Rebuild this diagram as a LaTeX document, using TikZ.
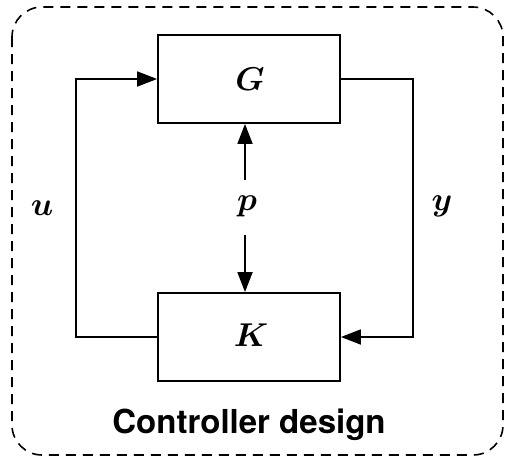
\documentclass[tikz,border=0pt]{standalone}
\usepackage{fontspec}
\newfontfamily\labelfont{TeX Gyre Heros}
\usetikzlibrary{arrows.meta}
\newcommand{\bigsym}[1]{\scalebox{3.3}{\boldmath$#1$}}
\begin{document}
\begin{tikzpicture}[x=1pt,y=-1pt,
  blk/.style={draw, line width=1.8pt, minimum width=182pt, minimum height=88pt, inner sep=0pt},
  sym/.style={anchor=base, inner sep=0pt},
  wire/.style={line width=1.8pt},
  arr/.style={wire, -{Triangle[length=20pt,width=15pt]}}]
\useasboundingbox (0,0) rectangle (506,458);
\draw[line width=1.6pt, dash pattern=on 10pt off 7pt, rounded corners=30pt] (12,7) rectangle (503,455);
\node[blk] (G) at (249,79) {};
\node[sym] (Gl) at (250,90) {\bigsym{G}};
\node[blk] (K) at (249,337) {};
\node[sym] (Kl) at (251,346) {\bigsym{K}};
\node[sym] (p) at (247,210) {\bigsym{p}};
\node[sym] (u) at (42,215) {\bigsym{u}};
\node[sym] (y) at (442,210) {\bigsym{y}};
\coordinate (lt) at (76,79);
\coordinate (lb) at (76,337);
\coordinate (rt) at (413,79);
\coordinate (rb) at (413,337);
\coordinate (pt) at (245,180);
\coordinate (pb) at (245,235);
\draw[arr] (K.west) -- (lb) -- (lt) -- (G.west);
\draw[arr] (G.east) -- (rt) -- (rb) -- (K.east);
\draw[arr] (pt) -- (pt |- G.south);
\draw[arr] (pb) -- (pb |- K.north);
\node[font=\labelfont\bfseries\fontsize{33}{36}\selectfont] (title) at (249,425) {Controller design};
\end{tikzpicture}
\end{document}
